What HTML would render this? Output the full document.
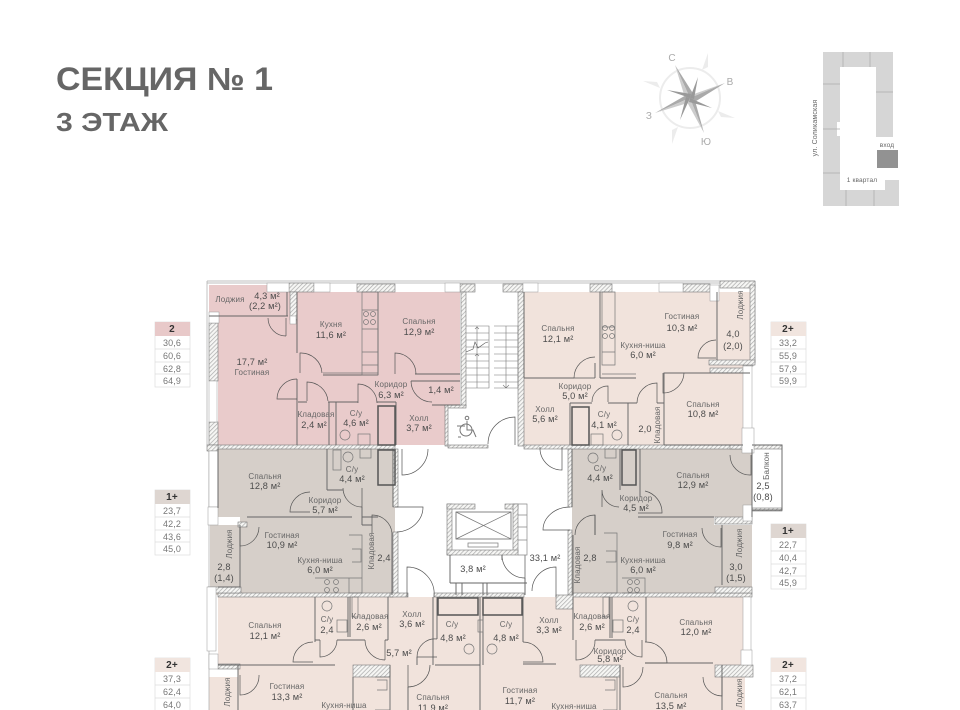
<!DOCTYPE html>
<html lang="ru"><head><meta charset="utf-8"><title>Секция № 1 — 3 этаж</title>
<style>
html,body{margin:0;padding:0;background:#fff}
body{width:960px;height:710px;overflow:hidden}
svg{display:block;filter:blur(.35px)}
text{font-family:"Liberation Sans",sans-serif;fill:#666;font-size:8px;text-anchor:middle;letter-spacing:.15px}
.a{font-size:9.2px;fill:#4c4c4c}
.t{font-size:9px;fill:#777}
.h{font-size:10px;font-weight:bold;fill:#333}
.w{fill:url(#h);stroke:#777;stroke-width:.6}
.b{fill:#fff;stroke:#999;stroke-width:.5}
.l{fill:none;stroke:#666;stroke-width:.95}
.d{fill:none;stroke:#555;stroke-width:.7}
.k{fill:none;stroke:#777;stroke-width:.6}
</style></head><body>
<svg width="960" height="710" viewBox="0 0 960 710" xmlns="http://www.w3.org/2000/svg">
<defs><pattern id="h" width="3" height="3" patternUnits="userSpaceOnUse" patternTransform="rotate(45)"><rect width="3" height="3" fill="#f6f6f4"/><rect width=".7" height="3" fill="#aaa"/></pattern></defs>

<text x="56" y="90" style="font-size:32px;font-weight:bold;fill:#666;text-anchor:start;letter-spacing:0" textLength="217" lengthAdjust="spacingAndGlyphs">СЕКЦИЯ № 1</text>
<text x="56" y="131" style="font-size:26px;font-weight:bold;fill:#666;text-anchor:start;letter-spacing:0" textLength="112" lengthAdjust="spacingAndGlyphs">3 ЭТАЖ</text>

<!-- compass -->
<g>
<circle cx="690" cy="98" r="30" fill="none" stroke="#ececec" stroke-width="2"/>
<g fill="#ececec"><path d="M708 53l-6 17 6-3z"/><path d="M735 118l-17-7 3 6z"/><path d="M672 144l6-17-6 3z"/><path d="M643 81l17 7-3-6z"/></g>
<path d="M675 65l19 30-4 3z" fill="#aaa"/><path d="M675 65l11 36 4-3z" fill="#ccc"/>
<path d="M725 83l-31 11 -4 4z" fill="#ccc"/><path d="M725 83l-35 15 3 5z" fill="#aaa"/>
<path d="M704 133l-17-31 3-4z" fill="#ccc"/><path d="M704 133l-10-36-4 1z" fill="#aaa"/>
<path d="M655 113l33-19 2 4z" fill="#aaa"/><path d="M655 113l35-15 1 4z" fill="#ccc"/>
<path d="M698 77l-8 21 4 1z" fill="#999"/><path d="M712 108l-22-10 -1 4z" fill="#999"/><path d="M680 120l10-22 -4-1z" fill="#999"/><path d="M667 90l23 8 1-4z" fill="#999"/>
<text x="672" y="61" style="fill:#aaa;font-size:10px">С</text><text x="730" y="85" style="fill:#aaa;font-size:10px">В</text><text x="706" y="145" style="fill:#aaa;font-size:10px">Ю</text><text x="649" y="119" style="fill:#aaa;font-size:10px">З</text>
</g>

<!-- site map -->
<path d="M823 52H893V137H876V67H840V190H885V180H899V206H823Z" fill="#d6d6d6"/>
<rect x="837" y="122" width="3" height="14" fill="#fff"/>
<rect x="877" y="150" width="21" height="18" fill="#929292"/>
<path d="M843 52V67M870 52V67M823 84H840M823 129H840M823 173H840M876 92H893M846 190V206M874 190V206" stroke="#aaa" stroke-width=".7"/>
<text x="817" y="128" transform="rotate(-90 817 128)" style="font-size:7px;fill:#666">ул. Соликамская</text>
<text x="887" y="147" style="font-size:6.5px;fill:#666">вход</text>
<text x="862" y="182" style="font-size:6.5px;fill:#666">1 квартал</text>

<!-- legends -->
<g stroke="#ddd" stroke-width=".7" fill="#fff">
<rect x="155" y="322" width="35" height="65"/><rect x="771" y="322" width="35" height="65"/>
<rect x="155" y="490" width="35" height="65"/><rect x="771" y="524" width="35" height="65"/>
<rect x="155" y="658" width="35" height="60"/><rect x="771" y="658" width="35" height="60"/>
<path d="M155 349h35M155 362h35M155 374h35M771 349h35M771 362h35M771 374h35M155 517h35M155 530h35M155 542h35M771 551h35M771 564h35M771 576h35M155 685h35M155 698h35M771 685h35M771 698h35"/>
</g>
<rect x="155" y="322" width="35" height="14" fill="#e8c9c9"/><rect x="771" y="322" width="35" height="14" fill="#f1e5df"/>
<rect x="155" y="490" width="35" height="14" fill="#ded6d1"/><rect x="771" y="524" width="35" height="14" fill="#ded6d1"/>
<rect x="155" y="658" width="35" height="14" fill="#f1e5df"/><rect x="771" y="658" width="35" height="14" fill="#f1e5df"/>
<text class="h" x="172" y="332">2</text><text class="t" x="172" y="346">30,6</text><text class="t" x="172" y="359">60,6</text><text class="t" x="172" y="372">62,8</text><text class="t" x="172" y="384">64,9</text>
<text class="h" x="788" y="332">2+</text><text class="t" x="788" y="346">33,2</text><text class="t" x="788" y="359">55,9</text><text class="t" x="788" y="372">57,9</text><text class="t" x="788" y="384">59,9</text>
<text class="h" x="172" y="500">1+</text><text class="t" x="172" y="514">23,7</text><text class="t" x="172" y="527">42,2</text><text class="t" x="172" y="540">43,6</text><text class="t" x="172" y="552">45,0</text>
<text class="h" x="788" y="534">1+</text><text class="t" x="788" y="548">22,7</text><text class="t" x="788" y="561">40,4</text><text class="t" x="788" y="574">42,7</text><text class="t" x="788" y="586">45,9</text>
<text class="h" x="172" y="668">2+</text><text class="t" x="172" y="682">37,3</text><text class="t" x="172" y="695">62,4</text><text class="t" x="172" y="708">64,0</text>
<text class="h" x="788" y="668">2+</text><text class="t" x="788" y="682">37,2</text><text class="t" x="788" y="695">62,1</text><text class="t" x="788" y="708">63,7</text>

<!-- room fills -->
<path d="M209 285H288V292H460V405H445V445H218V318H209Z" fill="#e9cbcb"/>
<path d="M524 292H750V362H743V445H524Z" fill="#f1e3dc"/>
<path d="M218 449H395V595H210V525H240V517H218Z" fill="#d6cfc9"/>
<path d="M572 449H752V517H714V525H752V587H722V595H572Z" fill="#d6cfc9"/>
<path d="M218 597H745V710H209V677H238V665H218Z" fill="#f1e3dc"/>

<!-- outer frame -->
<path d="M207 281H755M207 283H755M207 281V445M209 445V710M755 281V362" stroke="#aaa" stroke-width=".7" fill="none"/>
<!-- hatched walls -->
<g>
<rect class="w" x="289" y="283" width="25" height="9"/><rect class="w" x="357" y="284" width="38" height="8"/><rect class="w" x="460" y="284" width="15" height="8"/>
<rect class="w" x="503" y="284" width="20" height="8"/><rect class="w" x="590" y="284" width="22" height="8"/><rect class="w" x="683" y="284" width="27" height="8"/><rect class="w" x="720" y="281" width="35" height="7"/>
<rect class="w" x="290" y="292" width="7" height="28"/><rect class="w" x="209" y="323" width="9" height="58"/><rect class="w" x="209" y="422" width="9" height="23"/>
<rect class="w" x="461" y="292" width="5" height="114"/><rect class="w" x="445" y="405" width="21" height="3"/><rect class="w" x="445" y="405" width="3" height="41"/><rect class="w" x="518" y="292" width="6" height="154"/>
<rect class="w" x="750" y="285" width="5" height="78"/><rect class="w" x="743" y="362" width="10" height="4"/><rect class="w" x="709" y="360" width="46" height="5"/>
<rect class="w" x="710" y="368" width="34" height="5"/>
<rect class="w" x="218" y="445" width="177" height="4"/><rect class="w" x="448" y="445" width="40" height="3"/><rect class="w" x="524" y="445" width="228" height="4"/><rect class="w" x="207" y="445" width="11" height="6"/>
<rect class="w" x="393" y="449" width="5" height="58"/><rect class="w" x="393" y="532" width="5" height="63"/><rect class="w" x="568" y="449" width="4" height="58"/><rect class="w" x="568" y="530" width="4" height="65"/>
<rect class="w" x="218" y="593" width="175" height="4"/><rect class="w" x="573" y="593" width="179" height="4"/><rect class="w" x="556" y="595" width="17" height="14"/><rect class="w" x="390" y="593" width="18" height="4"/>
<rect class="w" x="434" y="593" width="90" height="4"/><rect class="w" x="238" y="522" width="9" height="5"/><rect class="w" x="715" y="517" width="37" height="7"/><rect class="w" x="715" y="587" width="37" height="6"/><rect class="w" x="208" y="587" width="33" height="6"/>
<rect class="w" x="353" y="665" width="37" height="12"/><rect class="w" x="580" y="665" width="40" height="12"/><rect class="w" x="715" y="665" width="38" height="12"/><rect class="w" x="218" y="664" width="22" height="5"/>
<!-- lift core -->
<rect class="w" x="447" y="504" width="5" height="51"/><rect class="w" x="447" y="504" width="28" height="5"/><rect class="w" x="505" y="504" width="13" height="5"/><rect class="w" x="513" y="504" width="5" height="48"/><rect class="w" x="447" y="550" width="71" height="5"/>
<rect class="w" x="730" y="445" width="52" height="4"/><rect class="w" x="752" y="508" width="30" height="3"/>
</g>
<!-- window boxes -->
<g class="b">
<rect x="267" y="283" width="22" height="9"/><rect x="314" y="283" width="16" height="9"/><rect x="445" y="283" width="15" height="9"/><rect x="523" y="283" width="15" height="9"/><rect x="659" y="283" width="24" height="9"/><rect x="710" y="285" width="9" height="16"/>
<rect x="209" y="381" width="8" height="41"/><rect x="209" y="451" width="9" height="56"/><rect x="208" y="507" width="10" height="18"/><rect x="207" y="587" width="9" height="64"/><rect x="209" y="654" width="9" height="15"/>
<rect x="743" y="366" width="9" height="79"/><rect x="742" y="428" width="12" height="25"/><rect x="743" y="505" width="9" height="16"/><rect x="743" y="597" width="8" height="66"/><rect x="741" y="650" width="11" height="15"/>
<rect x="290" y="316" width="6" height="8"/><rect x="209" y="312" width="10" height="11"/>
</g>

<!-- interior walls -->
<g class="l">
<path d="M297 292V353M297 379V445M323 375H378M378 292V375M415 374H460M411 381H460M432 405H460"/>
<path d="M298 402H307M328 402H358M377 402H396M329 402V445M336 402V445M396 402V445"/>
<path d="M209 316H288M287 292V316"/>
<path d="M524 292V378M524 378H574M595 378V363M600 292V378M600 378H636M570 403H592M608 403H628M570 403V445M628 403V445M628 403H637M657 403H664V373H684M664 373H750M664 403V445M664 445H743M717 292V360"/>
<path d="M218 449V508M247 517H352M240 525V587M218 587H240M393 449V507M327 449V490M327 490H343M362 517H378M362 507V525M362 525H372M392 533V595"/>
<path d="M638 517H714M572 449V507M640 449V497M620 449V490M595 515V535M573 535V595M722 525V585M752 449V517"/>
<path d="M218 665H335M315 597V642M348 597V637M350 597V637M388 597V640M315 640H320M337 640H365M385 640H388M417 665V657M437 597V639M435 665H480M480 597V710M483 597V665M523 597V642M433 597V665M573 597V640M610 597V638M612 597V638M646 597V642M595 640H625M645 663H713M523 664H556M408 687V710"/>
<path d="M620 665V710M353 677V710M390 665V710M238 665V710M722 665V710"/>
<path d="M450 555V583M502 555V560M450 583H527M456 583V595M462 583V595M483 583V595M487 583V595M525 578V595"/>
<path d="M752 445H782V510H752M782 445V510"/>
</g>
<!-- doors -->
<g class="d">
<path d="M286 318V336M268 318A18 18 0 0 0 286 336"/>
<path d="M300 373V353A21 21 0 0 1 322 373"/>
<path d="M297 399H277A20 20 0 0 1 297 379"/>
<path d="M307 401V382A21 21 0 0 1 328 401"/>
<path d="M358 403V384A19 19 0 0 1 377 403"/>
<path d="M395 374V353A21 21 0 0 1 416 374"/>
<path d="M411 381A21 21 0 0 0 432 402"/>
<path d="M402 449V475A26 26 0 0 0 428 449"/>
<path d="M310 512H290A20 20 0 0 1 310 492"/>
<path d="M362 507V488M343 488A19 19 0 0 0 362 507"/>
<path d="M395 507H423A28 25 0 0 1 397 532"/>
<path d="M372 533V515A20 20 0 0 1 392 533"/>
<path d="M240 527V546A19 19 0 0 0 259 527"/>
<path d="M407 597V567A27 27 0 0 1 434 597"/>
<path d="M313 662H293A20 20 0 0 1 313 642"/>
<path d="M320 640V657A17 17 0 0 0 337 640"/>
<path d="M385 640V660M365 640A20 20 0 0 0 385 660"/>
<path d="M437 657H417A18 18 0 0 1 437 639"/>
<path d="M408 665V687A22 22 0 0 0 430 665"/>
<path d="M240 675V695A19 19 0 0 0 259 675"/>
<path d="M602 490V507M602 490A17 17 0 0 0 619 507"/>
<path d="M638 513H662A22 22 0 0 0 645 491"/>
<path d="M570 507A27 23 0 0 0 543 530H570"/>
<path d="M595 535V515A20 20 0 0 0 575 535"/>
<path d="M721 528V547A19 19 0 0 1 702 528"/>
<path d="M525 555V578M502 555A23 23 0 0 0 525 578"/>
<path d="M556 597V567A24 24 0 0 0 532 591"/>
<path d="M523 642A20 20 0 0 1 543 662H523"/>
<path d="M576 640V660A19 19 0 0 0 595 640"/>
<path d="M642 640V657A17 17 0 0 1 625 640"/>
<path d="M645 642A21 21 0 0 1 667 663H645"/>
<path d="M623 667V687A20 20 0 0 0 643 667"/>
<path d="M722 677V696A19 19 0 0 1 703 677"/>
<path d="M716 358H698A18 18 0 0 1 716 340"/>
<path d="M595 378H574A21 21 0 0 1 595 357"/>
<path d="M608 402V386A16 16 0 0 0 592 402"/>
<path d="M657 403V383A20 20 0 0 0 637 403"/>
<path d="M663 373V393A21 21 0 0 0 684 373"/>
<path d="M515 445V417A27 27 0 0 0 488 444"/>
<path d="M540 447A22 22 0 0 0 562 470V447"/>
<path d="M730 455A20 20 0 0 0 751 475V455"/>
</g>

<!-- stairs -->
<g class="k">
<path d="M466 326H489V388H466M494 326H518V388H494M466 333H489M466 340H489M466 347H489M466 354H489M466 361H489M466 368H489M466 375H489M466 382H489M494 333H518M494 340H518M494 347H518M494 354H518M494 361H518M494 368H518M494 375H518M494 382H518M477 326V388M506 326V388M503 385l3 3 3-3M475 329l2-2 2 2M475 356l2-2 2 2"/>
<path d="M466 352l7-3 2-7 3 6 7-5 3-1" stroke="#555"/>
</g>
<g fill="none" stroke="#777" stroke-width="1"><circle cx="467" cy="418" r="1.8"/><circle cx="466" cy="430" r="6"/><path d="M467 421V430H473L476 437M457 426H465M458 437H461"/></g>

<!-- elevator -->
<rect x="456" y="512" width="55" height="27" fill="#fff" stroke="#666" stroke-width=".8"/>
<path d="M456 512L511 539M511 512L456 539" fill="none" stroke="#777" stroke-width=".7"/>
<rect x="468" y="543" width="30" height="4" fill="none" stroke="#777" stroke-width=".7"/>
<path d="M518 504H527V555H518M518 515H527M518 527H527M518 540H527" fill="none" stroke="#888" stroke-width=".7"/>

<!-- bathrooms & fixtures -->
<g fill="none" stroke="#555" stroke-width="1">
<rect x="378" y="406" width="17" height="39" stroke-width="1.5"/>
<rect x="378" y="450" width="17" height="35" stroke-width="1.5"/>
<rect x="572" y="407" width="17" height="38" stroke-width="1.5"/>
<rect x="622" y="450" width="14" height="35" stroke-width="1.5"/>
<rect x="438" y="598" width="40" height="17" stroke-width="1.5"/>
<rect x="483" y="598" width="39" height="17" stroke-width="1.5"/>
</g>
<g fill="none" stroke="#777" stroke-width=".7">
<circle cx="345" cy="435" r="5"/><rect x="358" y="434" width="12" height="11"/>
<circle cx="348" cy="457" r="5"/><rect x="360" y="449" width="11" height="9"/>
<rect x="333" y="450" width="8" height="20"/>
<circle cx="617" cy="435" r="5"/><rect x="591" y="434" width="12" height="11"/>
<circle cx="593" cy="458" r="5"/><rect x="605" y="449" width="11" height="9"/>
<circle cx="327" cy="606" r="5"/><rect x="337" y="620" width="10" height="12"/>
<circle cx="633" cy="606" r="5"/><rect x="613" y="620" width="10" height="12"/>
<circle cx="469" cy="649" r="5"/><circle cx="492" cy="649" r="5"/><rect x="478" y="620" width="5" height="12"/>
<rect x="352" y="597" width="6" height="20"/><rect x="603" y="597" width="6" height="20"/>
<!-- kitchens -->
<path d="M362 292H378V375H362ZM362 310H378M362 329H378M362 352H378M362 365H378M323 373H378"/>
<circle cx="366" cy="314" r="2.5"/><circle cx="373" cy="314" r="2.5"/><circle cx="366" cy="322" r="2.5"/><circle cx="373" cy="322" r="2.5"/>
<path d="M602 292H615V365H602ZM602 327H615M602 352H615M602 374H636"/>
<circle cx="605" cy="328" r="2.5"/><circle cx="612" cy="328" r="2.5"/><circle cx="605" cy="336" r="2.5"/><circle cx="612" cy="336" r="2.5"/>
<path d="M349 535H362V593H349M352 549H361V562H352M315 578H349V593M349 578H362"/>
<circle cx="327" cy="582" r="2.5"/><circle cx="336" cy="582" r="2.5"/><circle cx="327" cy="590" r="2.5"/><circle cx="336" cy="590" r="2.5"/>
<path d="M604 533H617V593H604M606 551H616V562H606M622 578H645V593H622"/>
<circle cx="630" cy="582" r="2.5"/><circle cx="637" cy="582" r="2.5"/><circle cx="630" cy="590" r="2.5"/><circle cx="637" cy="590" r="2.5"/>
<path d="M375 677H390V710H375M377 680H387V690H377M603 677H617V710H603M605 680H615V690H605"/>
</g>

<!-- labels -->
<text x="230" y="302">Лоджия</text><text class="a" x="267" y="299">4,3 м²</text><text class="a" x="265" y="309">(2,2 м²)</text>
<text x="331" y="327">Кухня</text><text class="a" x="331" y="338">11,6 м²</text>
<text x="419" y="324">Спальня</text><text class="a" x="419" y="335">12,9 м²</text>
<text class="a" x="252" y="365">17,7 м²</text><text x="252" y="375">Гостиная</text>
<text x="391" y="387">Коридор</text><text class="a" x="391" y="398">6,3 м²</text><text class="a" x="441" y="393">1,4 м²</text>
<text x="316" y="417">Кладовая</text><text class="a" x="314" y="428">2,4 м²</text>
<text x="356" y="416">С/у</text><text class="a" x="356" y="426">4,6 м²</text>
<text x="419" y="421">Холл</text><text class="a" x="419" y="431">3,7 м²</text>

<text x="265" y="479">Спальня</text><text class="a" x="265" y="489">12,8 м²</text>
<text x="352" y="472">С/у</text><text class="a" x="352" y="482">4,4 м²</text>
<text x="325" y="503">Коридор</text><text class="a" x="325" y="513">5,7 м²</text>
<text x="282" y="538">Гостиная</text><text class="a" x="282" y="548">10,9 м²</text>
<text x="320" y="563">Кухня-ниша</text><text class="a" x="320" y="573">6,0 м²</text>
<text x="374" y="551" transform="rotate(-90 374 551)">Кладовая</text><text class="a" x="384" y="561">2,4</text>
<text x="232" y="544" transform="rotate(-90 232 544)">Лоджия</text><text class="a" x="224" y="570">2,8</text><text class="a" x="224" y="581">(1,4)</text>

<text x="265" y="628">Спальня</text><text class="a" x="265" y="639">12,1 м²</text>
<text x="327" y="622">С/у</text><text class="a" x="327" y="633">2,4</text>
<text x="370" y="619">Кладовая</text><text class="a" x="369" y="630">2,6 м²</text>
<text x="412" y="617">Холл</text><text class="a" x="412" y="627">3,6 м²</text>
<text class="a" x="399" y="656">5,7 м²</text>
<text x="452" y="627">С/у</text><text class="a" x="453" y="641">4,8 м²</text>
<text x="433" y="700">Спальня</text><text class="a" x="433" y="711">11,9 м²</text>
<text x="287" y="689">Гостиная</text><text class="a" x="287" y="700">13,3 м²</text>
<text x="344" y="708">Кухня-ниша</text>
<text x="230" y="692" transform="rotate(-90 230 692)">Лоджия</text>

<text class="a" x="473" y="572">3,8 м²</text><text class="a" x="545" y="561">33,1 м²</text>
<text x="506" y="627">С/у</text><text class="a" x="506" y="641">4,8 м²</text>
<text x="549" y="623">Холл</text><text class="a" x="549" y="633">3,3 м²</text>
<text x="592" y="619">Кладовая</text><text class="a" x="592" y="630">2,6 м²</text>
<text x="633" y="622">С/у</text><text class="a" x="633" y="633">2,4</text>
<text x="610" y="654">Коридор</text><text class="a" x="610" y="662">5,8 м²</text>
<text x="696" y="625">Спальня</text><text class="a" x="696" y="635">12,0 м²</text>
<text x="520" y="693">Гостиная</text><text class="a" x="520" y="704">11,7 м²</text>
<text x="574" y="709">Кухня-ниша</text>
<text x="671" y="698">Спальня</text><text class="a" x="671" y="709">13,5 м²</text>
<text x="742" y="693" transform="rotate(-90 742 693)">Лоджия</text>

<text x="693" y="478">Спальня</text><text class="a" x="693" y="488">12,9 м²</text>
<text x="600" y="471">С/у</text><text class="a" x="600" y="481">4,4 м²</text>
<text x="636" y="501">Коридор</text><text class="a" x="636" y="511">4,5 м²</text>
<text x="680" y="537">Гостиная</text><text class="a" x="680" y="548">9,8 м²</text>
<text x="643" y="563">Кухня-ниша</text><text class="a" x="643" y="573">6,0 м²</text>
<text x="580" y="565" transform="rotate(-90 580 565)">Кладовая</text><text class="a" x="590" y="561">2,8</text>
<text x="742" y="543" transform="rotate(-90 742 543)">Лоджия</text><text class="a" x="736" y="570">3,0</text><text class="a" x="736" y="581">(1,5)</text>
<text x="769" y="466" transform="rotate(-90 769 466)">Балкон</text><text class="a" x="763" y="489">2,5</text><text class="a" x="763" y="500">(0,8)</text>

<text x="558" y="331">Спальня</text><text class="a" x="558" y="342">12,1 м²</text>
<text x="682" y="319">Гостиная</text><text class="a" x="682" y="331">10,3 м²</text>
<text x="643" y="348">Кухня-ниша</text><text class="a" x="643" y="358">6,0 м²</text>
<text x="743" y="305" transform="rotate(-90 743 305)">Лоджия</text><text class="a" x="733" y="337">4,0</text><text class="a" x="733" y="349">(2,0)</text>
<text x="575" y="389">Коридор</text><text class="a" x="575" y="399">5,0 м²</text>
<text x="703" y="407">Спальня</text><text class="a" x="703" y="417">10,8 м²</text>
<text x="545" y="412">Холл</text><text class="a" x="545" y="422">5,6 м²</text>
<text x="604" y="417">С/у</text><text class="a" x="604" y="428">4,1 м²</text>
<text x="660" y="425" transform="rotate(-90 660 425)">Кладовая</text><text class="a" x="645" y="432">2,0</text>
</svg>
</body></html>
